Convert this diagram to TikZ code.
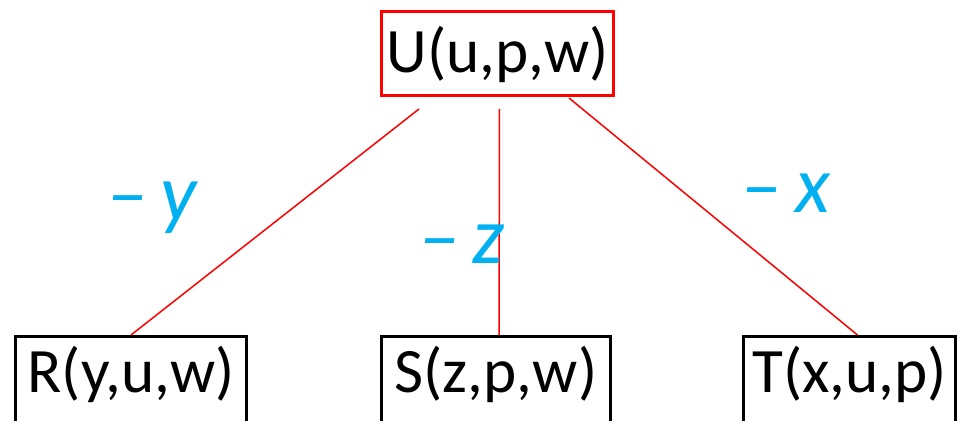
\documentclass[tikz,border=0pt]{standalone}
\usepackage{fontspec}
\setmainfont{Carlito}
\usetikzlibrary{calc}
\definecolor{inkblue}{RGB}{0,176,240}

\begin{document}
\begin{tikzpicture}[
    x=0.02cm, y=-0.02cm,
    % Styles
    relbox/.style={rectangle, draw, line width=0.06cm, inner sep=0pt, font=\fontsize{36}{40}\selectfont, text height=0.95cm},
    rootbox/.style={relbox, draw=red, text depth=0.17cm, minimum height=1.68cm},
    leafbox/.style={relbox, draw=black, text depth=0.72cm, minimum height=2cm},
    joinedge/.style={red, line width=0.03cm},
    note/.style={text=inkblue, font=\fontsize{46}{50}\selectfont\itshape},
]
\useasboundingbox (0,0) rectangle (965,421);

% === Root relation ===
\node[rootbox, minimum width=4.64cm] (U) at (497.5,53.5) {U(u,p,w)};

% === Child relations ===
\node[leafbox, minimum width=4.62cm] (R) at (131,386.5) {R(y,u,w)};
\node[leafbox, minimum width=4.58cm] (S) at (496,386.5) {S(z,p,w)};
\node[leafbox, minimum width=4.24cm] (T) at (849.5,386.5) {T(x,u,p)};

% Tree edges
\draw[joinedge] ($(U.south west)+(39,12)$) -- (R.north);
\draw[joinedge] ($(U.south)+(2,12)$) -- ($(S.north)+(3,0)$);
\draw[joinedge] ($(U.south east)+(-46,1)$) -- ($(T.north)+(8,0)$);

% Handwritten notes
\node[note] (ny) at (152,208) {–\,y};
\node[note] (nz) at (462,244) {–\,z};
\node[note] (nx) at (786,193) {–\,x};

\end{tikzpicture}
\end{document}
